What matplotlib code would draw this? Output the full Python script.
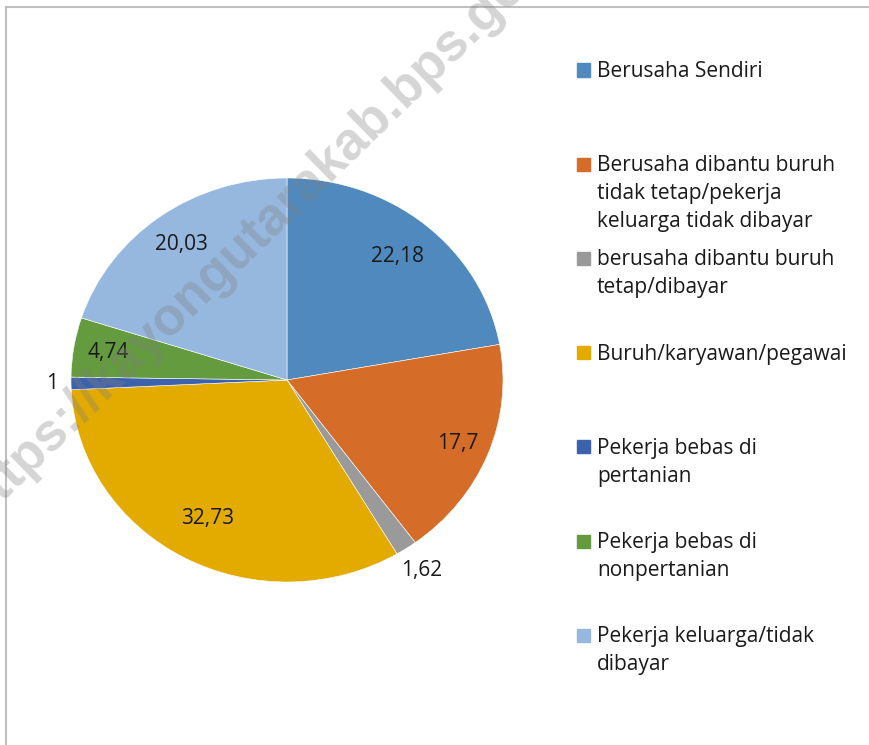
import numpy as np
import matplotlib.pyplot as plt
from matplotlib.lines import Line2D
from matplotlib.patches import Rectangle

categories = ['Berusaha Sendiri',
              'Berusaha dibantu buruh\ntidak tetap/pekerja\nkeluarga tidak dibayar',
              'berusaha dibantu buruh\ntetap/dibayar',
              'Buruh/karyawan/pegawai',
              'Pekerja bebas di\npertanian',
              'Pekerja bebas di\nnonpertanian',
              'Pekerja keluarga/tidak\ndibayar']
values = [22.18, 17.7, 1.62, 32.73, 1, 4.74, 20.03]
value_labels = ['22,18', '17,7', '1,62', '32,73', '1', '4,74', '20,03']
colors = ['#4F89BD', '#D56D28', '#9A9A9A', '#E3AA00', '#3D62AD', '#639B3E', '#96B8DF']
label_radius = [0.80, 0.85, 1.13, 0.78, 1.09, 0.84, 0.83]

plt.rcParams['font.family'] = ['Open Sans', 'DejaVu Sans']
W, H = 869, 745
fig = plt.figure(figsize=(W / 100, H / 100), dpi=100)

# ellipse bounding box of the pie (pixels)
px0, px1, py0, py1 = 71, 503, 178, 582
ax = fig.add_axes([px0 / W, 1 - py1 / H, (px1 - px0) / W, (py1 - py0) / H])
wedges, _ = ax.pie(values, colors=colors, startangle=90, counterclock=False,
                   wedgeprops=dict(edgecolor='white', linewidth=0.4))
ax.set_aspect('auto')
ax.set_xlim(-1, 1)
ax.set_ylim(-1, 1)
ax.axis('off')

# data labels
for w, txt, r in zip(wedges, value_labels, label_radius):
    ang = np.deg2rad((w.theta1 + w.theta2) / 2)
    ax.text(r * np.cos(ang), r * np.sin(ang), txt, ha='center', va='center',
            fontsize=15, color='#1a1a1a')

# legend drawn manually so the swatch sits on the first line
y0, step = 70, 94.2
for i, (lab, c) in enumerate(zip(categories, colors)):
    y = y0 + i * step
    fig.patches.append(Rectangle((577 / W, 1 - (y + 6.5) / H), 13 / W, 13 / H,
                                 transform=fig.transFigure, color=c))
    fig.text(597 / W, 1 - (y - 9) / H, lab, ha='left', va='top', fontsize=15,
             color='#1a1a1a', linespacing=1.43)

# chart border (left and top visible)
fig.lines.append(Line2D([6 / W, 6 / W], [0, 1 - 7 / H], transform=fig.transFigure,
                        color='#BFBFBF', lw=1.5))
fig.lines.append(Line2D([6 / W, 1], [1 - 7 / H, 1 - 7 / H], transform=fig.transFigure,
                        color='#BFBFBF', lw=1.5))

# watermark
fig.text(266 / W, 1 - 223 / H, 'https://kayongutarakab.bps.go.id', rotation=44.2,
         ha='center', va='center', fontsize=38, fontweight='bold',
         family='Liberation Sans', color='#808080', alpha=0.33, zorder=10)

fig.savefig('out.png', dpi=100)
